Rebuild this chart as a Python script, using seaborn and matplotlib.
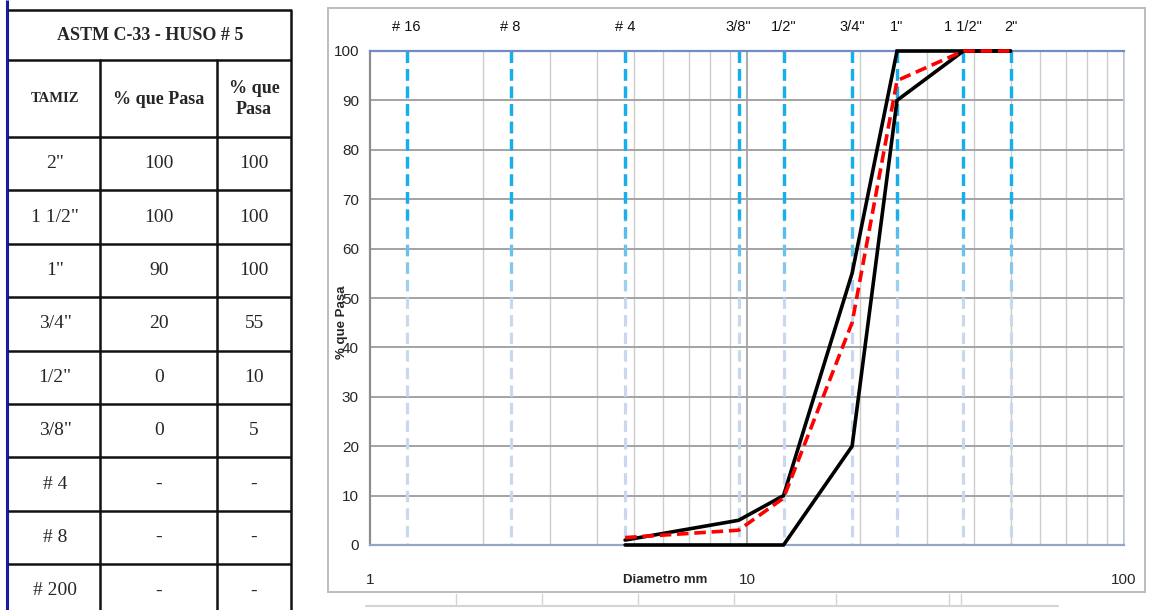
import numpy as np
import pandas as pd
import matplotlib
matplotlib.use('Agg')
import matplotlib.pyplot as plt
import matplotlib.transforms as mtransforms
from matplotlib.patches import Rectangle
from matplotlib.ticker import LogLocator, FixedLocator, FixedFormatter, NullFormatter
import seaborn as sns

# ---------------- data ----------------
tabla_titulo = 'ASTM C-33 - HUSO # 5'
tabla_tamiz = ['2"', '1 1/2"', '1"', '3/4"', '1/2"', '3/8"', '# 4', '# 8', '# 200']
tabla_inf = ['100', '100', '90', '20', '0', '0', '-', '-', '-']
tabla_sup = ['100', '100', '100', '55', '10', '5', '-', '-', '-']

tamiz_nombres = ['# 16', '# 8', '# 4', '3/8"', '1/2"', '3/4"', '1"', '1 1/2"', '2"']
tamiz_mm = [1.25, 2.36, 4.75, 9.5, 12.5, 19.0, 25.0, 37.5, 50.0]

curva_mm = [4.75, 9.5, 12.5, 19.0, 25.0, 37.5, 50.0]
lim_inf = [0, 0, 0, 20, 90, 100, 100]
lim_sup = [1, 5, 10, 55, 100, 100, 100]
muestra = [1.5, 3, 9.5, 45, 94, 100, 100]

y_ticks = list(range(0, 101, 10))
x_ticks = [1, 10, 100]
x_ticklabels = ['1', '10', '100']

# ---------------- style ----------------
sns.set_style('white')
SANS = ['Liberation Sans Narrow', 'Liberation Sans', 'DejaVu Sans']
SERIF = ['Liberation Serif', 'DejaVu Serif']
plt.rcParams['font.family'] = SANS

W, H = 1149, 610
fig = plt.figure(figsize=(W / 100, H / 100), dpi=100)

# background / table axes in pixel coordinates
bg = fig.add_axes([0, 0, 1, 1])
bg.set_xlim(0, W)
bg.set_ylim(H, 0)
bg.axis('off')

# table
blk = '#111111'
tlw = 1.8
bg.plot([7, 7], [0, H], color='#1a1a9c', lw=2.2, solid_capstyle='butt')
row_h = 53.4
y_rows = [137 + i * row_h for i in range(len(tabla_tamiz) + 1)]
for yy in [10, 60] + y_rows:
    bg.plot([8, 291], [yy, yy], color=blk, lw=tlw, solid_capstyle='butt')
bg.plot([291, 291], [10, H], color=blk, lw=tlw)
for xx in [100, 217]:
    bg.plot([xx, xx], [60, H], color=blk, lw=tlw)

bg.text(150, 35, tabla_titulo, ha='center', va='center', fontsize=13,
        fontweight='bold', family=SERIF)
bg.text(55, 99, 'TAMIZ', ha='center', va='center', fontsize=10.5,
        fontweight='bold', family=SERIF)
bg.text(159, 99, '% que Pasa', ha='center', va='center', fontsize=13,
        fontweight='bold', family=SERIF)
bg.text(254, 99, '% que\nPasa', ha='center', va='center', fontsize=13,
        fontweight='bold', family=SERIF, linespacing=1.3)
for i, (t, a, b) in enumerate(zip(tabla_tamiz, tabla_inf, tabla_sup)):
    yc = 137 + (i + 0.5) * row_h
    bg.text(55, yc, t, ha='center', va='center', fontsize=14, family=SERIF)
    bg.text(159, yc, a, ha='center', va='center', fontsize=14, family=SERIF)
    bg.text(254, yc, b, ha='center', va='center', fontsize=14, family=SERIF)

# chart frame
bg.add_patch(Rectangle((328, 8), 817, 584, fill=False, ec='#bdbdbd', lw=1.4))
# faint lines of something below the chart
bg.plot([366, 1058], [606, 606], color='#d4d4d4', lw=1.5)
for xx in [456, 542, 638, 734, 836, 949, 961]:
    bg.plot([xx, xx], [594, 606], color='#d4d4d4', lw=1)

# ---------------- chart ----------------
ax = fig.add_axes([370 / W, 1 - 545 / H, 754 / W, 494 / H])
ax.set_xscale('log')
ax.set_xlim(1, 100)
ax.set_ylim(0, 100)

ax.xaxis.set_major_locator(FixedLocator(x_ticks))
ax.xaxis.set_major_formatter(FixedFormatter(x_ticklabels))
ax.xaxis.set_minor_locator(LogLocator(base=10, subs=np.arange(2, 10)))
ax.xaxis.set_minor_formatter(NullFormatter())
ax.set_yticks(y_ticks)

ax.set_axisbelow(True)
ax.grid(which='minor', axis='x', color='#cdcdcd', lw=1.0)
ax.grid(which='major', axis='x', color='#9c9c9c', lw=1.2)
ax.grid(which='major', axis='y', color='#a3a3a3', lw=1.4)

ax.tick_params(axis='x', which='both', length=0, pad=20, labelsize=11)
ax.tick_params(axis='y', length=4, width=1.2, color='#9c9c9c', pad=4, labelsize=11)

for side, col, lw in [('top', '#6f8fc4', 1.6), ('bottom', '#94a6c8', 1.6),
                      ('left', '#8d8d8d', 1.6), ('right', '#c3ccdc', 1.2)]:
    ax.spines[side].set_visible(True)
    ax.spines[side].set_color(col)
    ax.spines[side].set_linewidth(lw)

# sieve reference lines (dashed, fading from bright to light blue downward)
light = '#c9d8ef'
bright = '#14b0ee'
for mm in tamiz_mm:
    ax.plot([mm, mm], [100, 0], color=light, lw=2.3, dashes=(3.6, 1.9),
            zorder=1.5, solid_capstyle='butt', dash_capstyle='butt')
    ax.plot([mm, mm], [100, 66], color=bright, lw=2.3, dashes=(3.6, 1.9),
            zorder=1.6, dash_capstyle='butt')
    for yend in [62, 58, 54, 50]:
        ax.plot([mm, mm], [100, yend], color=bright, lw=2.3, dashes=(3.6, 1.9),
                alpha=0.22, zorder=1.6, dash_capstyle='butt')

blend = mtransforms.blended_transform_factory(ax.transData, ax.transAxes)
for name, mm in zip(tamiz_nombres, tamiz_mm):
    ax.text(mm, 1.049, name, transform=blend, ha='center', va='center',
            fontsize=10.5, color='#111111')

# curves
df = pd.DataFrame({
    'mm': curva_mm * 3,
    'pasa': lim_inf + lim_sup + muestra,
    'serie': ['Lim inf'] * len(curva_mm) + ['Lim sup'] * len(curva_mm)
             + ['Muestra'] * len(curva_mm),
})
sns.lineplot(data=df, x='mm', y='pasa', hue='serie', style='serie',
             hue_order=['Lim inf', 'Lim sup', 'Muestra'],
             style_order=['Lim inf', 'Lim sup', 'Muestra'],
             palette={'Lim inf': '#000000', 'Lim sup': '#000000', 'Muestra': '#ff0000'},
             dashes={'Lim inf': '', 'Lim sup': '', 'Muestra': (3.2, 1.6)},
             estimator=None, sort=False, legend=False, linewidth=2.6,
             zorder=3, ax=ax)
for ln in ax.get_lines()[-3:]:
    ln.set_clip_on(False)
    ln.set_solid_joinstyle('miter')

ax.set_xlabel('Diametro mm', fontsize=9.5, fontweight='bold', va='center')
ax.xaxis.set_label_coords((665 - 370) / 754, (545 - 580) / 494)
ax.set_ylabel('% que Pasa', fontsize=9.5, fontweight='bold', va='center')
ax.yaxis.set_label_coords((342 - 370) / 754, (545 - 322) / 494)

fig.savefig('out.png', dpi=100)
